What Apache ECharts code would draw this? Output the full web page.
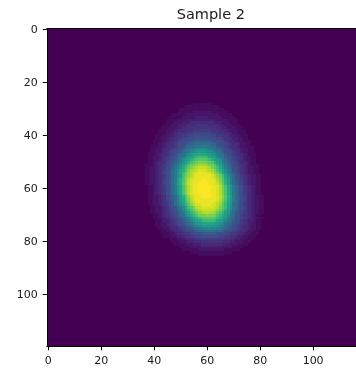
<!DOCTYPE html>
<html>
<head>
<meta charset="utf-8">
<script src="https://cdn.jsdelivr.net/npm/echarts@6/dist/echarts.min.js"></script>
<style>
  html, body { margin: 0; padding: 0; background: #ffffff; }
  #chart { width: 356px; height: 373px; }
</style>
</head>
<body>
<div id="chart"></div>
<script>
// Image size (rows x columns) and the tick positions shown on each axis.
const nRows = 120;
const nCols = 120;
const xTicks = [0, 20, 40, 60, 80, 100];
const yTicks = [0, 20, 40, 60, 80, 100];

// Intensity of the blob, one string per image row starting at firstBlobRow.
// Each character is a level 0..z (base 36, z = 35 = full intensity);
// blobRowStart gives the column of the first character. Every other cell is 0.
const levelMax = 35;
const firstBlobRow = 28;
const blobRowStart = [
  55, 52, 50, 49, 47, 46, 45, 45, 44, 43,   // 28-37
  42, 42, 41, 41, 40, 40, 39, 39, 39, 38,   // 38-47
  38, 38, 38, 37, 37, 37, 37, 37, 37, 37,   // 48-57
  37, 38, 38, 38, 38, 38, 38, 38, 38, 39,   // 58-67
  39, 39, 40, 40, 41, 41, 41, 42, 43, 43,   // 68-77
  44, 46, 47, 48, 50, 51, 54, 57            // 78-85
];
const blobRowLevels = [
  "1111111",                                                          // 28
  "1111111111111",                                                    // 29
  "11111111111111111",                                                // 30
  "111111" + "2222222" + "111111",                                    // 31
  "11111" + "2222222222222" + "11111",                                // 32
  "11111" + "22222" + "33333" + "22222" + "11111",                    // 33
  "1111" + "2222" + "33333333333" + "2222" + "1111",                  // 34
  "111" + "222" + "333" + "444444444" + "333" + "222" + "111",        // 35
  "111" + "222" + "33" + "4444" + "55555" + "4444" + "33" + "222" + "111",       // 36
  "111" + "222" + "33" + "44" + "55555555555" + "44" + "33" + "222" + "111",     // 37
  "111" + "222" + "3" + "444" + "555" + "6666666" + "555" + "444" + "3" + "222" + "111", // 38
  "111" + "22" + "3" + "44" + "555" + "66" + "7777777" + "66" + "555" + "44" + "3" + "22" + "111", // 39
  "111" + "22" + "33" + "4" + "55" + "66" + "77" + "8888888" + "77" + "66" + "55" + "4" + "33" + "22" + "111", // 40
  "11" + "22" + "33" + "4" + "55" + "6" + "77" + "888" + "99999" + "888" + "77" + "6" + "55" + "4" + "33" + "22" + "11", // 41
  "111223445678889a" + "bbbbb" + "a988876544322111",                  // 42
  "1122344567889ab" + "ccccccc" + "ba9887654432211",                  // 43
  "1112234556789accd" + "eeeee" + "dcca9876554322111",                // 44
  "112234456789bcdefg" + "hhh" + "gfedcb987654432211",                // 45
  "11223456788acdeghi" + "jjj" + "ihgedca88765432211",                // 46
  "11123445678acdehikk" + "lll" + "kkihedca87654432111",              // 47
  "11223456789bdehjkln" + "ooo" + "nlkjhedb98765432211",              // 48
  "1122345678acehjkmop" + "qqq" + "pomkjheca8765432211",              // 49
  "1123445789bdfikmpqr" + "sss" + "rqpmkifdb9875443211",              // 50
  "1112345678acehkmprst" + "uuu" + "tsrpmkheca8765432111",            // 51
  "1122345688bdfiloqsuv" + "www" + "vusqolifdb8865432211",            // 52
  "1122345689cehkmpsuvw" + "xxx" + "wvuspmkhec9865432211",            // 53
  "112234578aceilortvxx" + "yyy" + "xxvtrolieca875432211",            // 54
  "1122345689cehkortvxyyy" + "yyyxvtrokhec9865432211",                // 55
  "1122345689ceilpsuwxyyy" + "yyyxwuspliec9865432211",                // 56
  "112234578acfjmpsvxyyyz" + "zyyyxvspmjfca875432211",                // 57
  "112234578acfjmqtwxyyzz" + "zzyyxwtqmjfca875432211",                // 58
  "112345689ceilpsvxyyzz" + "z" + "zzyyxvspliec986543211",            // 59
  "112345689ceilpsvxyyzz" + "z" + "zzyyxvspliec986543211",            // 60
  "112345689ceilpsvxyyzz" + "z" + "zzyyxvspliec986543211",            // 61
  "112345689ceilpsvxyyzz" + "z" + "zzyyxvspliec986543211",            // 62
  "112234578acfjmqtwxyyzz" + "zzyyxwtqmjfca875432211",                // 63
  "112234578acfilpsvxyyyy" + "yyyyxvsplifca875432211",                // 64
  "1122345689ceiloruwxyyy" + "yyyxwuroliec9865432211",                // 65
  "1122345689cdhknqtvxxyy" + "yyxxvtqnkhdc9865432211",                // 66
  "1122345789cehkoqsvwxx" + "x" + "xxwvsqokhec9875432211",            // 67
  "1122345689bdgjmprtvww" + "w" + "wwvtrpmjgdb9865432211",            // 68
  "1122345678aceiknprtuv" + "v" + "vutrpnkieca8765432211",            // 69
  "1123455789cdgjlnprss" + "t" + "ssrpnljgdc9875543211",              // 70
  "11223456789cdfikmopqq" + "qqpomkifdc98765432211",                  // 71
  "1123345688acegiklnoo" + "oonlkigeca8865433211",                    // 72
  "11223456789bcegijkll" + "llkjigecb98765432211",                    // 73
  "112234456789bcefhijj" + "jjihfecb987654432211",                    // 74
  "112234456789acdefgg" + "h" + "ggfedca987654432211",                // 75
  "1122344567889acccd" + "d" + "dccca9887654432211",                  // 76
  "1112234456678889aa" + "a" + "aa9888766544322111",                  // 77
  "11122334556677888" + "8" + "88877665543322111",                    // 78
  "1112233445566666" + "6666655443322111",                            // 79
  "111222334445555" + "555544433222111",                              // 80
  "11112223334444" + "44443332221111",                                // 81
  "111122223333" + "333322221111",                                    // 82
  "11111122222" + "22222111111",                                      // 83
  "11111111" + "11111111",                                            // 84
  "11111" + "11111"                                                   // 85
];

// Viridis colour ramp.
const viridis = [
  '#440154', '#482475', '#414487', '#355f8d', '#2a788e', '#21918c',
  '#22a884', '#44bf70', '#7ad151', '#bddf26', '#fde725'
];

// Decode the rows into a full image, then into cells [col, row, value].
const image = [];
for (let r = 0; r < nRows; r++) image.push(new Array(nCols).fill(0));
blobRowLevels.forEach((s, k) => {
  const r = firstBlobRow + k;
  for (let j = 0; j < s.length; j++) {
    image[r][blobRowStart[k] + j] = parseInt(s[j], 36) / levelMax;
  }
});
const cells = [];
for (let r = 0; r < nRows; r++) {
  for (let c = 0; c < nCols; c++) cells.push([c, r, image[r][c]]);
}

const colNames = Array.from({ length: nCols }, (_, i) => String(i));
const rowNames = Array.from({ length: nRows }, (_, i) => String(i));

const FONT = 'DejaVu Sans';
const INK = '#1a1a1a';
const cell = 2.65;                 // pixel size of one image cell
const plotLeft = 46.8, plotTop = 28.4;
const plotW = nCols * cell, plotH = nRows * cell;

const spine = { show: true, onZero: false, lineStyle: { color: '#000', width: 1 } };
const tickStyle = { color: '#000', width: 1 };

// Each image cell is a filled rectangle snapped to whole pixels, so that
// neighbouring cells share edges exactly and no seams show between them.
// The small bias keeps edges that land on .5 rounding the same way from both sides.
const snap = (v) => Math.round(v + 1e-3);
function drawCell(params, api) {
  const p = api.coord([api.value(0), api.value(1)]);
  const s = api.size([1, 1]);
  const x0 = snap(p[0] - s[0] / 2), x1 = snap(p[0] + s[0] / 2);
  const y0 = snap(p[1] - s[1] / 2), y1 = snap(p[1] + s[1] / 2);
  return {
    type: 'rect',
    shape: { x: x0, y: y0, width: x1 - x0, height: y1 - y0 },
    style: { fill: api.visual('color'), stroke: null }
  };
}

const chart = echarts.init(document.getElementById('chart'), null, { renderer: 'canvas' });
chart.setOption({
  animation: false,
  backgroundColor: '#ffffff',
  title: {
    text: 'Sample 2',
    left: plotLeft + plotW / 2,
    textAlign: 'center',
    top: 3,
    textStyle: { fontFamily: FONT, fontSize: 14.5, fontWeight: 'normal', color: INK }
  },
  grid: {
    left: plotLeft, top: plotTop, width: plotW, height: plotH,
    containLabel: false, outerBoundsMode: 'none'
  },
  xAxis: [{
    type: 'category', data: colNames, position: 'bottom', z: 10,
    axisLine: spine,
    axisTick: { show: true, alignWithLabel: true, length: 4, lineStyle: tickStyle,
                interval: (i) => xTicks.includes(i) },
    axisLabel: { interval: (i) => xTicks.includes(i), margin: 9,
                 fontFamily: FONT, fontSize: 11, color: INK },
    splitLine: { show: false }, splitArea: { show: false }
  }, {
    type: 'category', data: colNames, position: 'top', z: 10,
    axisLine: spine, axisTick: { show: false }, axisLabel: { show: false },
    splitLine: { show: false }
  }],
  yAxis: [{
    type: 'category', data: rowNames, inverse: true, position: 'left', z: 10,
    axisLine: spine,
    axisTick: { show: true, alignWithLabel: true, length: 4, lineStyle: tickStyle,
                interval: (i) => yTicks.includes(i) },
    axisLabel: { interval: (i) => yTicks.includes(i), margin: 9,
                 fontFamily: FONT, fontSize: 11, color: INK },
    splitLine: { show: false }, splitArea: { show: false }
  }],
  visualMap: {
    show: false, type: 'continuous', min: 0, max: 1, dimension: 2, seriesIndex: 0,
    inRange: { color: viridis }
  },
  series: [{
    type: 'custom',
    coordinateSystem: 'cartesian2d',
    data: cells,
    encode: { x: 0, y: 1 },
    renderItem: drawCell,
    clip: true,
    silent: true,
    progressive: 0
  }]
});
</script>
</body>
</html>
